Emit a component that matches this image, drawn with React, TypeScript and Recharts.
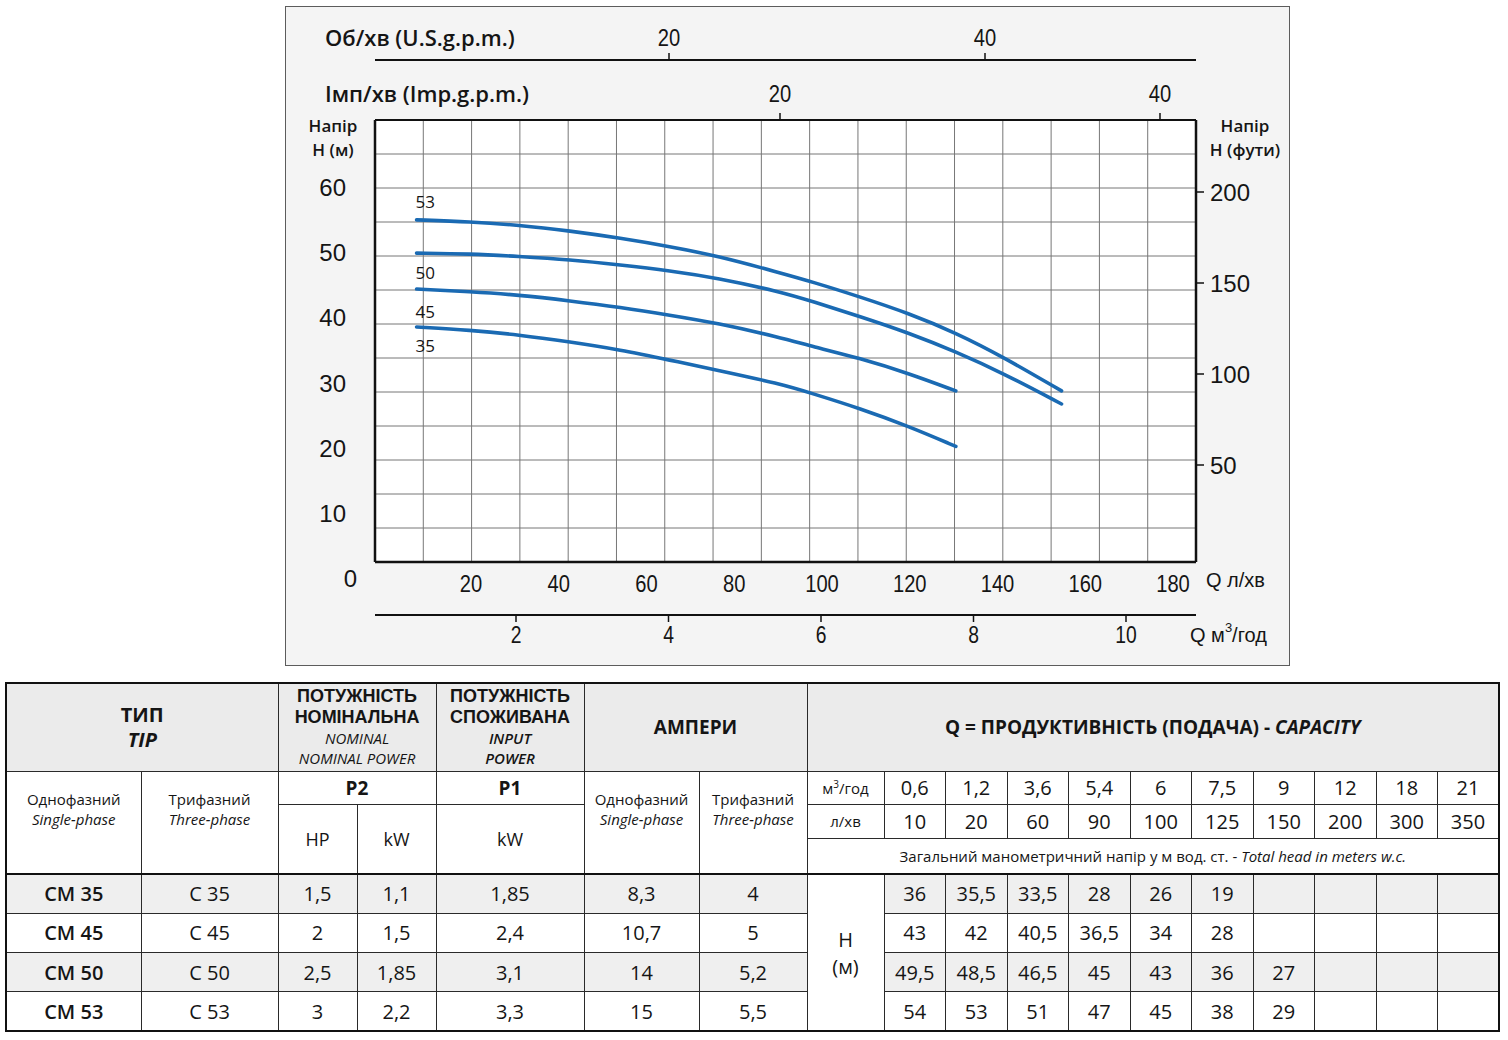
import React from 'react';
import { ComposedChart, Line, XAxis, YAxis, CartesianGrid } from 'recharts';

// ---------- chart data ----------
const curveNames = ['53', '50', '45', '35'];
const qCurve53 = [7.6, 19.8, 30.8, 42.6, 54, 65.4, 76, 90.4, 97.8, 108.7, 119.7, 130.5, 141.3, 154.6];
const hCurve53 = [55.0, 54.7, 54.2, 53.3, 52.2, 50.9, 49.5, 46.9, 45.5, 43.2, 40.7, 37.7, 34.0, 28.8];
const qCurve50 = [7.6, 19.8, 30.8, 42.6, 54, 65.4, 76, 90.4, 97.8, 108.7, 119.7, 130.5, 141.3, 154.6];
const hCurve50 = [49.9, 49.8, 49.4, 48.9, 48.1, 47.2, 46.1, 44.0, 42.5, 40.2, 37.7, 34.8, 31.5, 26.8];
const qCurve45 = [7.6, 19.8, 30.8, 42.6, 54, 65.4, 76, 90.4, 97.8, 108.7, 119.7, 130.5];
const hCurve45 = [44.4, 44.0, 43.5, 42.6, 41.6, 40.4, 39.2, 37.0, 35.6, 33.8, 31.5, 28.8];
const qCurve35 = [7.6, 19.8, 30.8, 42.6, 54, 65.4, 76, 90.4, 97.8, 108.7, 119.7, 130.5];
const hCurve35 = [38.6, 38.1, 37.4, 36.3, 35.1, 33.5, 32.0, 29.9, 28.4, 26.1, 23.4, 20.3];

const lpmTicks = [20, 40, 60, 80, 100, 120, 140, 160, 180];
const m3hTicks = [2, 4, 6, 8, 10];
const usGpmTicks = [20, 40];
const impGpmTicks = [20, 40];
const headMTicks = [0, 10, 20, 30, 40, 50, 60];
const headFtTicks = [50, 100, 150, 200];
const gridColumnTicks = [0, 1, 2, 3, 4, 5, 6, 7, 8, 9, 10, 11, 12, 13, 14, 15, 16, 17];
const gridRowTicks = [0, 1, 2, 3, 4, 5, 6, 7, 8, 9, 10, 11, 12, 13];

// ---------- table data ----------
const typeSingle = ['CM 35', 'CM 45', 'CM 50', 'CM 53'];
const typeThree = ['C 35', 'C 45', 'C 50', 'C 53'];
const p2Hp = ['1,5', '2', '2,5', '3'];
const p2Kw = ['1,1', '1,5', '1,85', '2,2'];
const p1Kw = ['1,85', '2,4', '3,1', '3,3'];
const ampsSingle = ['8,3', '10,7', '14', '15'];
const ampsThree = ['4', '5', '5,2', '5,5'];
const capM3h = ['0,6', '1,2', '3,6', '5,4', '6', '7,5', '9', '12', '18', '21'];
const capLpm = ['10', '20', '60', '90', '100', '125', '150', '200', '300', '350'];
const headCM35 = ['36', '35,5', '33,5', '28', '26', '19'];
const headCM45 = ['43', '42', '40,5', '36,5', '34', '28'];
const headCM50 = ['49,5', '48,5', '46,5', '45', '43', '36', '27'];
const headCM53 = ['54', '53', '51', '47', '45', '38', '29'];
const headRows = [headCM35, headCM45, headCM50, headCM53];

// ---------- styles ----------
const FONT_NUM = '"Liberation Sans", Arial, sans-serif';
const FONT_TXT = '"Open Sans", "Noto Sans", sans-serif';
const CURVE_COLOR = '#1a6ab3';
const labelDy = [-18, 19, 22, 19];

const curves = [
  { name: curveNames[0], data: qCurve53.map((q, i) => ({ q, h: hCurve53[i] })) },
  { name: curveNames[1], data: qCurve50.map((q, i) => ({ q, h: hCurve50[i] })) },
  { name: curveNames[2], data: qCurve45.map((q, i) => ({ q, h: hCurve45[i] })) },
  { name: curveNames[3], data: qCurve35.map((q, i) => ({ q, h: hCurve35[i] })) },
];
// chart-level rows (built from the tick lists) so that the auxiliary axes get a scale
const axisRows = gridColumnTicks.map((gc, i) => ({
  gc,
  gr: gridRowTicks[i],
  q: lpmTicks[i],
  us: usGpmTicks[i],
  imp: impGpmTicks[i],
  m3h: m3hTicks[i],
}));

function CondensedTick(props: any) {
  const { x, y, payload, side, size } = props;
  return (
    <g transform={`translate(${x},${y})`}>
      <text
        transform="scale(0.84,1)"
        textAnchor="middle"
        dy={side === 'bottom' ? '0.71em' : 0}
        fontSize={size}
        fontFamily={FONT_NUM}
        fill="#151515"
      >
        {payload.value}
      </text>
    </g>
  );
}

function HeadTick(props: any) {
  const { x, y, payload } = props;
  const shift = payload.value === 0 ? 11 : 0;
  return (
    <text x={x + shift} y={y} dy="0.355em" textAnchor="end" fontSize={24} fontFamily={FONT_NUM} fill="#151515">
      {payload.value}
    </text>
  );
}

const EmptyTick = () => <g />;

const titleStyle = { fontFamily: FONT_TXT, fontWeight: 600, fill: '#151515' } as const;

const leftTitle = (p: any) => {
  const vb = p.viewBox;
  return (
    <g>
      <text x={vb.x + 18} y={vb.y + 5} textAnchor="middle" dominantBaseline="central" fontSize={17} {...titleStyle}>Напір</text>
      <text x={vb.x + 18} y={vb.y + 29} textAnchor="middle" dominantBaseline="central" fontSize={17} {...titleStyle}>Н (м)</text>
    </g>
  );
};
const rightTitle = (p: any) => {
  const vb = p.viewBox;
  return (
    <g>
      <text x={vb.x + 49} y={vb.y + 5} textAnchor="middle" dominantBaseline="central" fontSize={17} {...titleStyle}>Напір</text>
      <text x={vb.x + 49} y={vb.y + 29} textAnchor="middle" dominantBaseline="central" fontSize={17} {...titleStyle}>Н (фути)</text>
    </g>
  );
};
const usTitle = (p: any) => {
  const vb = p.viewBox;
  return (
    <text x={vb.x - 50} y={vb.y + 31} dominantBaseline="central" fontSize={22} {...titleStyle}>Об/хв (U.S.g.p.m.)</text>
  );
};
const impTitle = (p: any) => {
  const vb = p.viewBox;
  return (
    <text x={vb.x - 50} y={vb.y + 33} dominantBaseline="central" fontSize={22} {...titleStyle}>Імп/хв (Imp.g.p.m.)</text>
  );
};
const lpmTitle = (p: any) => {
  const vb = p.viewBox;
  return (
    <text x={vb.x + vb.width + 10} y={vb.y + 18} dominantBaseline="central" fontSize={20} fontFamily={FONT_NUM} fill="#151515">Q л/хв</text>
  );
};
const m3hTitle = (p: any) => {
  const vb = p.viewBox;
  return (
    <text x={vb.x + vb.width - 6} y={vb.y + 20} dominantBaseline="central" fontSize={20} fontFamily={FONT_NUM} fill="#151515">
      Q м<tspan fontSize={13} dy={-8}>3</tspan><tspan dy={8}>/год</tspan>
    </text>
  );
};

const makeCurveLabel = (name: string, dy: number) => (p: any) => {
  const x = p.x ?? p.viewBox?.x;
  const y = p.y ?? p.viewBox?.y;
  if (p.index !== 0 || x == null) return <g />;
  return (
    <text x={x - 1} y={y + dy} dominantBaseline="central" fontSize={17} fontFamily={FONT_TXT} fill="#151515">{name}</text>
  );
};

function PumpChart() {
  const W = 1005;
  const H = 660;
  return (
    <div style={{ position: 'absolute', left: 285, top: 6, width: W, height: H, background: '#f4f4f4', outline: '1.5px solid #5c5c5c', outlineOffset: -1 }}>
      <ComposedChart width={W} height={H} data={axisRows} margin={{ top: 0, right: 14, bottom: 11, left: 30 }}>
        <XAxis
          xAxisId="gx"
          dataKey="gc"
          type="number"
          domain={[0, 17]}
          ticks={gridColumnTicks}
          interval={0}
          allowDataOverflow
          height={0}
          tick={EmptyTick}
          tickLine={false}
          axisLine={false}
        />
        <YAxis
          yAxisId="gy"
          dataKey="gr"
          type="number"
          domain={[0, 13]}
          ticks={gridRowTicks}
          interval={0}
          allowDataOverflow
          width={0}
          tick={EmptyTick}
          tickLine={false}
          axisLine={false}
        />
        <CartesianGrid xAxisId="gx" yAxisId="gy" stroke="#777777" strokeWidth={1} fill="#ffffff" fillOpacity={1} />
        <XAxis
          xAxisId="imp"
          dataKey="imp"
          orientation="top"
          type="number"
          domain={[-1.316, 41.895]}
          allowDataOverflow
          ticks={impGpmTicks}
          interval={0}
          height={60}
          axisLine={{ stroke: '#111', strokeWidth: 2 }}
          tickLine={{ stroke: '#111', strokeWidth: 1.5 }}
          tickSize={7}
          tickMargin={11.5}
          tick={(p: any) => <CondensedTick {...p} side="top" size={24} />}
          label={impTitle}
        />
        <XAxis
          xAxisId="us"
          dataKey="us"
          orientation="top"
          type="number"
          domain={[1.392, 53.354]}
          allowDataOverflow
          ticks={usGpmTicks}
          interval={0}
          height={54}
          axisLine={{ stroke: '#111', strokeWidth: 2 }}
          tickLine={{ stroke: '#111', strokeWidth: 1.5 }}
          tickSize={7}
          tickMargin={7.5}
          tick={(p: any) => <CondensedTick {...p} side="top" size={24} />}
          label={usTitle}
        />
        <XAxis
          xAxisId="lpm"
          dataKey="q"
          type="number"
          domain={[-1.88, 185.24]}
          allowDataOverflow
          ticks={lpmTicks}
          interval={0}
          height={53}
          axisLine={{ stroke: '#111', strokeWidth: 2.5 }}
          tickLine={false}
          tickSize={0}
          tickMargin={13}
          tick={(p: any) => <CondensedTick {...p} side="bottom" size={24} />}
          label={lpmTitle}
        />
        <XAxis
          xAxisId="m3h"
          dataKey="m3h"
          type="number"
          domain={[0.1508, 10.918]}
          allowDataOverflow
          ticks={m3hTicks}
          interval={0}
          height={40}
          axisLine={{ stroke: '#111', strokeWidth: 2 }}
          tickLine={{ stroke: '#111', strokeWidth: 1.5 }}
          tickSize={7}
          tickMargin={5}
          tick={(p: any) => <CondensedTick {...p} side="bottom" size={23} />}
          label={m3hTitle}
        />
        <YAxis
          yAxisId="m"
          orientation="left"
          type="number"
          width={60}
          domain={[2.6, 70.29]}
          allowDataOverflow
          ticks={headMTicks}
          interval={0}
          axisLine={{ stroke: '#111', strokeWidth: 2.5 }}
          tickLine={false}
          tickSize={0}
          tickMargin={29}
          tick={(p: any) => <HeadTick {...p} />}
          label={leftTitle}
        />
        <YAxis
          yAxisId="ft"
          orientation="right"
          type="number"
          width={80}
          domain={[-3.3, 239.56]}
          allowDataOverflow
          ticks={headFtTicks}
          interval={0}
          axisLine={{ stroke: '#111', strokeWidth: 2.5 }}
          tickLine={{ stroke: '#111', strokeWidth: 1.5 }}
          tickSize={8}
          tickMargin={6}
          tick={{ fontSize: 24, fill: '#151515', fontFamily: FONT_NUM }}
          label={rightTitle}
        />
        {curves.map((c, i) => (
          <Line
            key={c.name}
            name={c.name}
            xAxisId="lpm"
            yAxisId="m"
            data={c.data}
            dataKey="h"
            type="basis"
            stroke={CURVE_COLOR}
            strokeWidth={3.6}
            strokeLinecap="round"
            dot={false}
            activeDot={false}
            isAnimationActive={false}
            label={makeCurveLabel(c.name, labelDy[i])}
          />
        ))}
      </ComposedChart>
    </div>
  );
}

// ---------- table ----------
const colWidths = [135, 137, 79, 79, 148, 115, 108, 77, 61.5, 61.5, 61.5, 61.5, 61.5, 61.5, 61.5, 61.5, 61.5, 61.5];
const BORDER = '1px solid #2a2a2a';
const td = (extra: React.CSSProperties = {}): React.CSSProperties => ({
  border: BORDER,
  textAlign: 'center',
  verticalAlign: 'middle',
  padding: 0,
  ...extra,
});
const HEAD_BG = '#ebebeb';
const SHADE_BG = '#efefef';

function SpecTable() {
  const hdr: React.CSSProperties = { fontWeight: 700, fontSize: 18, lineHeight: '21px', fontFamily: FONT_NUM };
  const hdrItalic: React.CSSProperties = { fontStyle: 'italic', fontSize: 15, lineHeight: '20px' };
  const sub: React.CSSProperties = { fontSize: 15, lineHeight: '20px' };
  const num: React.CSSProperties = { fontSize: 20 };
  return (
    <table
      style={{
        position: 'absolute',
        left: 5,
        top: 682,
        width: 1493,
        borderCollapse: 'collapse',
        tableLayout: 'fixed',
        fontFamily: FONT_TXT,
        color: '#151515',
        border: '2px solid #111',
        background: '#fff',
      }}
    >
      <colgroup>
        {colWidths.map((w, i) => (
          <col key={i} style={{ width: w }} />
        ))}
      </colgroup>
      <tbody>
        <tr style={{ height: 88, background: HEAD_BG }}>
          <td colSpan={2} style={td()}>
            <div style={{ fontWeight: 700, fontSize: 20, lineHeight: '25px' }}>ТИП</div>
            <div style={{ fontWeight: 700, fontStyle: 'italic', fontSize: 20, lineHeight: '25px' }}>TIP</div>
          </td>
          <td colSpan={2} style={td()}>
            <div style={hdr}>ПОТУЖНІСТЬ</div>
            <div style={hdr}>НОМІНАЛЬНА</div>
            <div style={hdrItalic}>NOMINAL</div>
            <div style={hdrItalic}>NOMINAL POWER</div>
          </td>
          <td style={td()}>
            <div style={hdr}>ПОТУЖНІСТЬ</div>
            <div style={hdr}>СПОЖИВАНА</div>
            <div style={{ ...hdrItalic, fontWeight: 600 }}>INPUT</div>
            <div style={{ ...hdrItalic, fontWeight: 600 }}>POWER</div>
          </td>
          <td colSpan={2} style={td({ fontWeight: 700, fontSize: 19 })}>АМПЕРИ</td>
          <td colSpan={11} style={td({ fontWeight: 700, fontSize: 19 })}>
            Q = ПРОДУКТИВНІСТЬ (ПОДАЧА) - <i>CAPACITY</i>
          </td>
        </tr>
        <tr style={{ height: 33 }}>
          <td rowSpan={3} style={td({ paddingBottom: 26 })}>
            <div style={sub}>Однофазний</div>
            <div style={{ ...sub, fontStyle: 'italic' }}>Single-phase</div>
          </td>
          <td rowSpan={3} style={td({ paddingBottom: 26 })}>
            <div style={sub}>Трифазний</div>
            <div style={{ ...sub, fontStyle: 'italic' }}>Three-phase</div>
          </td>
          <td colSpan={2} style={td({ fontWeight: 700, fontSize: 19 })}>P2</td>
          <td style={td({ fontWeight: 700, fontSize: 19 })}>P1</td>
          <td rowSpan={3} style={td({ paddingBottom: 26 })}>
            <div style={sub}>Однофазний</div>
            <div style={{ ...sub, fontStyle: 'italic' }}>Single-phase</div>
          </td>
          <td rowSpan={3} style={td({ paddingBottom: 26 })}>
            <div style={sub}>Трифазний</div>
            <div style={{ ...sub, fontStyle: 'italic' }}>Three-phase</div>
          </td>
          <td style={td({ fontSize: 15 })}>
            м<sup style={{ fontSize: 10 }}>3</sup>/год
          </td>
          {capM3h.map((v) => (
            <td key={v} style={td(num)}>{v}</td>
          ))}
        </tr>
        <tr style={{ height: 34 }}>
          <td rowSpan={2} style={td({ fontSize: 18 })}>HP</td>
          <td rowSpan={2} style={td({ fontSize: 18 })}>kW</td>
          <td rowSpan={2} style={td({ fontSize: 18 })}>kW</td>
          <td style={td({ fontSize: 15 })}>л/хв</td>
          {capLpm.map((v) => (
            <td key={v} style={td(num)}>{v}</td>
          ))}
        </tr>
        <tr style={{ height: 36 }}>
          <td colSpan={11} style={td({ fontSize: 15 })}>
            Загальний манометричний напір у м вод. ст. - <i>Total head in meters w.c.</i>
          </td>
        </tr>
        {typeSingle.map((t, r) => {
          const bg = r % 2 === 0 ? SHADE_BG : '#ffffff';
          const topBorder = r === 0 ? { borderTop: '2.5px solid #111' } : {};
          return (
            <tr key={t} style={{ height: 39.25, background: bg }}>
              <td style={td({ fontSize: 20, fontWeight: 600, ...topBorder })}>{t}</td>
              <td style={td({ fontSize: 20, ...topBorder })}>{typeThree[r]}</td>
              <td style={td({ ...num, ...topBorder })}>{p2Hp[r]}</td>
              <td style={td({ ...num, ...topBorder })}>{p2Kw[r]}</td>
              <td style={td({ ...num, ...topBorder })}>{p1Kw[r]}</td>
              <td style={td({ ...num, ...topBorder })}>{ampsSingle[r]}</td>
              <td style={td({ ...num, ...topBorder })}>{ampsThree[r]}</td>
              {r === 0 && (
                <td rowSpan={4} style={td({ fontSize: 20, background: '#fff', ...topBorder })}>
                  <div>H</div>
                  <div>(м)</div>
                </td>
              )}
              {capLpm.map((c, k) => (
                <td key={c} style={td({ ...num, ...topBorder })}>{headRows[r][k] ?? ''}</td>
              ))}
            </tr>
          );
        })}
      </tbody>
    </table>
  );
}

export default function App() {
  return (
    <div style={{ position: 'absolute', left: 0, top: 0, width: 1508, height: 1040, background: '#ffffff', overflow: 'hidden' }}>
      <PumpChart />
      <SpecTable />
    </div>
  );
}
